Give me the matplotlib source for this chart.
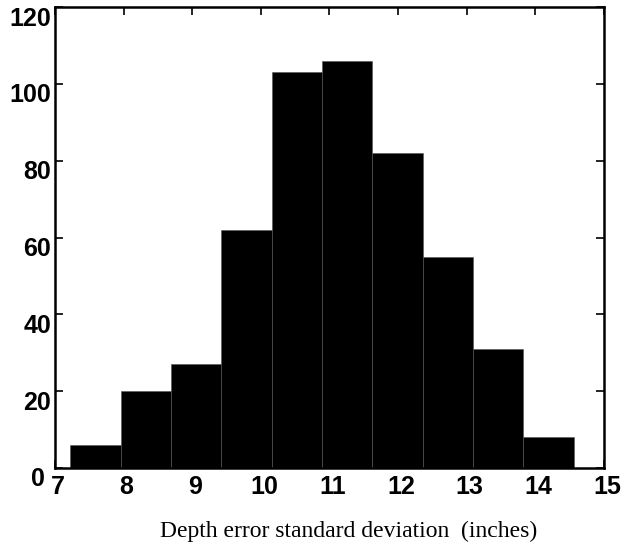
import matplotlib.pyplot as plt
import matplotlib.transforms as mtransforms

# histogram bins
bin_start = 7.22
bin_width = 0.734
counts = [6, 20, 27, 62, 103, 106, 82, 55, 31, 8]
x_ticks = [7, 8, 9, 10, 11, 12, 13, 14, 15]
y_ticks = [0, 20, 40, 60, 80, 100, 120]

edges = [bin_start + i * bin_width for i in range(len(counts) + 1)]

fig = plt.figure(figsize=(6.33, 5.48), dpi=100)
ax = fig.add_axes([0.087, 0.146, 0.867, 0.841])

ax.bar(edges[:-1], counts, width=bin_width, align='edge',
       color='black', edgecolor='#555555', linewidth=0.4)

ax.set_xlim(7, 15)
ax.set_ylim(0, 120)
ax.set_xticks(x_ticks)
ax.set_yticks(y_ticks)

for s in ax.spines.values():
    s.set_linewidth(1.8)

ax.tick_params(direction='in', length=6, width=1.2, top=True, right=True,
               labelsize=18)
ax.tick_params(axis='x', pad=5)
ax.tick_params(axis='y', pad=3)
for lab in ax.get_xticklabels() + ax.get_yticklabels():
    lab.set_fontfamily('Liberation Sans')
    lab.set_fontweight('bold')

# labels sit a little low in the original
off = mtransforms.ScaledTranslation(0, -9 / 100, fig.dpi_scale_trans)
for lab in ax.get_yticklabels():
    lab.set_transform(lab.get_transform() + off)
# the zero label sits further left, clear of the "7"
ylabs = ax.get_yticklabels()
off0 = mtransforms.ScaledTranslation(-6 / 100, 0, fig.dpi_scale_trans)
ylabs[0].set_transform(ylabs[0].get_transform() + off0)
offx = mtransforms.ScaledTranslation(3 / 100, 0, fig.dpi_scale_trans)
for lab in ax.get_xticklabels():
    lab.set_transform(lab.get_transform() + offx)

ax.set_xlabel('Depth error standard deviation  (inches)',
              fontfamily='Liberation Serif', fontsize=17, labelpad=12)
ax.xaxis.set_label_coords(0.534, -0.115)

fig.savefig('out.png', dpi=100)
